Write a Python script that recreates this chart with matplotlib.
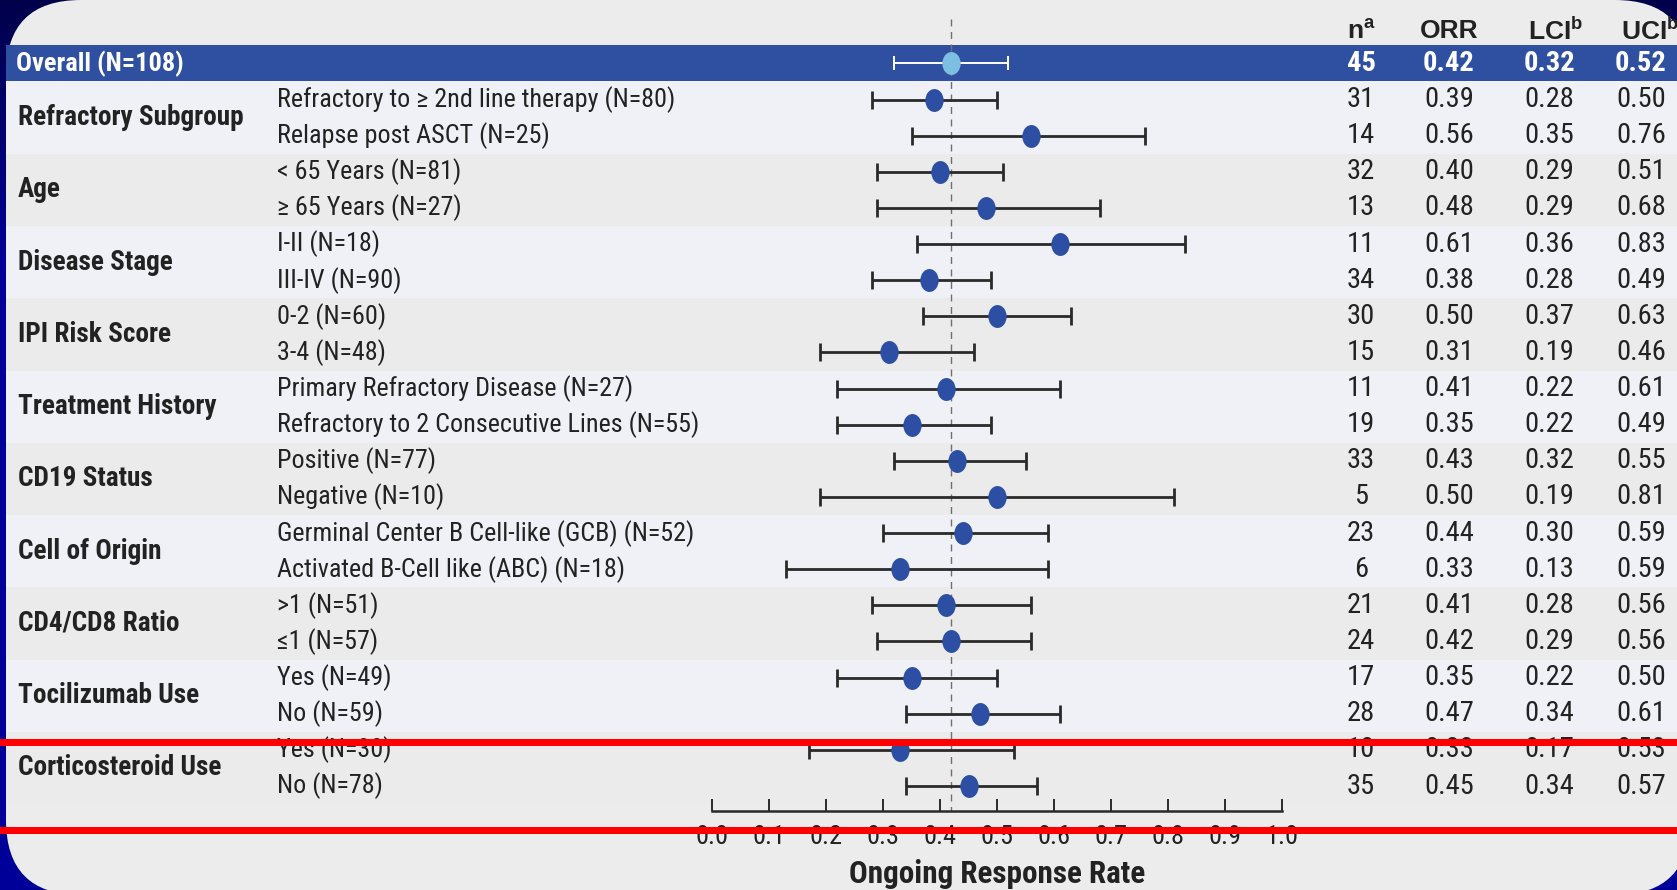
import numpy as np
import matplotlib
matplotlib.use("Agg")
import matplotlib.pyplot as plt
from matplotlib import font_manager
from matplotlib.patches import FancyBboxPatch
from matplotlib.path import Path
from matplotlib.transforms import Affine2D, blended_transform_factory

# ---- data ----
groups = ["Refractory Subgroup", "Age", "Disease Stage", "IPI Risk Score",
          "Treatment History", "CD19 Status", "Cell of Origin",
          "CD4/CD8 Ratio", "Tocilizumab Use", "Corticosteroid Use"]
subgroups = ["Refractory to \u2265 2nd line therapy (N=80)", "Relapse post ASCT (N=25)",
             "< 65 Years (N=81)", "\u2265 65 Years (N=27)",
             "I-II (N=18)", "III-IV (N=90)",
             "0-2 (N=60)", "3-4 (N=48)",
             "Primary Refractory Disease (N=27)", "Refractory to 2 Consecutive Lines (N=55)",
             "Positive (N=77)", "Negative (N=10)",
             "Germinal Center B Cell-like (GCB) (N=52)", "Activated B-Cell like (ABC) (N=18)",
             ">1 (N=51)", "\u22641 (N=57)",
             "Yes (N=49)", "No (N=59)",
             "Yes (N=30)", "No (N=78)"]
n_resp = [31, 14, 32, 13, 11, 34, 30, 15, 11, 19, 33, 5, 23, 6, 21, 24, 17, 28, 10, 35]
orr = [0.39, 0.56, 0.40, 0.48, 0.61, 0.38, 0.50, 0.31, 0.41, 0.35,
       0.43, 0.50, 0.44, 0.33, 0.41, 0.42, 0.35, 0.47, 0.33, 0.45]
lci = [0.28, 0.35, 0.29, 0.29, 0.36, 0.28, 0.37, 0.19, 0.22, 0.22,
       0.32, 0.19, 0.30, 0.13, 0.28, 0.29, 0.22, 0.34, 0.17, 0.34]
uci = [0.50, 0.76, 0.51, 0.68, 0.83, 0.49, 0.63, 0.46, 0.61, 0.49,
       0.55, 0.81, 0.59, 0.59, 0.56, 0.56, 0.50, 0.61, 0.53, 0.57]
overall_label = "Overall (N=108)"
overall_n, overall_orr, overall_lci, overall_uci = 45, 0.42, 0.32, 0.52
headers = ["n$^{\\mathregular{a}}$", "ORR", "LCI$^{\\mathregular{b}}$", "UCI$^{\\mathregular{b}}$"]
xticks = [0.0, 0.1, 0.2, 0.3, 0.4, 0.5, 0.6, 0.7, 0.8, 0.9, 1.0]

# ---- fonts ----
avail = {f.name for f in font_manager.fontManager.ttflist}
narrow_name = next((n for n in ["Liberation Sans Narrow", "Roboto Condensed", "PT Sans Narrow", "Pragati Narrow"]
                    if n in avail), "Liberation Sans")
NARROW = [narrow_name, "DejaVu Sans"]
WIDE = ["Liberation Sans", "DejaVu Sans"]

# ---- geometry (pixels) ----
W, H = 1677, 890
X0, XS = 712, 570          # pixel of 0.0 and pixels per unit
R0, RS = 63.4, 36.13       # pixel of overall row and row spacing

def ry(px):
    return (px - R0) / RS

fig = plt.figure(figsize=(W / 100, H / 100), dpi=100)

# background frame
bg = fig.add_axes([0, 0, 1, 1])
bg.set_xlim(0, W)
bg.set_ylim(H, 0)
bg.axis("off")
grad = np.clip(np.linspace(0, 1, 200) / 0.3, 0, 1)[:, None]
cols = np.zeros((200, 1, 3))
cols[:, :, 2] = (75 + 78 * grad) / 255
bg.imshow(cols, extent=(0, W, H, 0), aspect="auto", zorder=0)
bg.add_patch(FancyBboxPatch((6, 0), 1690 - 6, 895, boxstyle="round,pad=0,rounding_size=75",
                            fc="#ECECEC", ec="none", zorder=1))

ax = fig.add_axes([0, 0, 1, 1])
ax.patch.set_alpha(0)
ax.set_xlim(-X0 / XS, (W - X0) / XS)
ax.set_ylim(ry(H), ry(0))

rows = np.arange(1, len(subgroups) + 1)
orr_a, lci_a, uci_a = np.array(orr), np.array(lci), np.array(uci)

# bands
xm = 6 / W
ax.axhspan(-0.5, 0.5, xmin=xm, xmax=1, color="#2F50A1", lw=0, zorder=1)
for k in range(len(groups)):
    c = "#F0F1F6" if k % 2 == 0 else "#EBEBEB"
    ax.axhspan(2 * k + 0.5, 2 * k + 2.5, xmin=xm, xmax=1, color=c, lw=0, zorder=1)

# reference line
ax.vlines(overall_orr, ry(19), ry(811), colors="#707070", linestyles=(0, (5, 4)), lw=1, zorder=2)

ell = Path.unit_circle().transformed(Affine2D().scale(0.8, 1.0))

ax.errorbar(orr_a, rows, xerr=[orr_a - lci_a, uci_a - orr_a], fmt="none",
            ecolor="#2A2A2A", elinewidth=2.0, capsize=6.3, capthick=2.0, zorder=3)
ax.plot(orr_a, rows, ls="none", marker=ell, ms=16.5, mfc="#2D4FA3", mec="none", zorder=4)

ax.errorbar([overall_orr], [0], xerr=[[overall_orr - overall_lci], [overall_uci - overall_orr]],
            fmt="none", ecolor="white", elinewidth=1.4, capsize=5, capthick=1.4, zorder=3)
ax.plot([overall_orr], [0], ls="none", marker=ell, ms=16.5, mfc="#7DBFE3", mec="none", zorder=4)

# labels
ty = ax.get_yaxis_transform()
txt = "#222222"
ax.text(16 / W, 0, overall_label, transform=ty, ha="left", va="center",
        color="white", fontsize=19, fontweight="bold", family=NARROW)
for k, g in enumerate(groups):
    ax.text(18 / W, 2 * k + 1.5, g, transform=ty, ha="left", va="center",
            color=txt, fontsize=19.6, fontweight="bold", family=NARROW)
for y, s in zip(rows, subgroups):
    ax.text(277 / W, y, s, transform=ty, ha="left", va="center",
            color=txt, fontsize=18.8, family=NARROW)

col_x = [1361, 1449, 1549, 1641]
head_x = [1361, 1449, 1556, 1650]
for hx, h in zip(head_x, headers):
    ax.text(hx / W, ry(31), h, transform=ty, ha="center", va="center",
            color=txt, fontsize=19, fontweight="bold", family=WIDE)
ov_vals = [str(overall_n), f"{overall_orr:.2f}", f"{overall_lci:.2f}", f"{overall_uci:.2f}"]
for cx, v in zip(col_x, ov_vals):
    ax.text(cx / W, 0, v, transform=ty, ha="center", va="center",
            color="white", fontsize=20.5, fontweight="bold", family=NARROW)
for i, y in enumerate(rows):
    vals = [str(n_resp[i]), f"{orr[i]:.2f}", f"{lci[i]:.2f}", f"{uci[i]:.2f}"]
    for cx, v in zip(col_x, vals):
        ax.text(cx / W, y, v, transform=ty, ha="center", va="center",
                color=txt, fontsize=20.5, family=NARROW)

# x axis
for s in ["top", "left", "right"]:
    ax.spines[s].set_visible(False)
ax.spines["bottom"].set_position(("data", ry(811)))
ax.spines["bottom"].set_bounds(0, 1)
ax.spines["bottom"].set_linewidth(1.8)
ax.spines["bottom"].set_color("#2A2A2A")
ax.set_yticks([])
ax.set_xticks(xticks)
ax.set_xticklabels([f"{t:.1f}" for t in xticks], family=NARROW, fontsize=19, color=txt)
ax.tick_params(axis="x", direction="in", length=8.6, width=1.4, color="#2A2A2A", pad=10)
ax.set_xlabel("Ongoing Response Rate", fontsize=22.4, fontweight="bold", family=NARROW, color=txt)
ax.xaxis.set_label_coords(0.5, 1 - 874 / H, transform=blended_transform_factory(ax.transData, ax.transAxes))
ax.xaxis.label.set_va("center")

# red overlay lines
for py in [742, 830]:
    ax.axhline(ry(py), color="#FF0000", lw=7 * 0.72, zorder=10)

fig.savefig("out.png", dpi=100)
